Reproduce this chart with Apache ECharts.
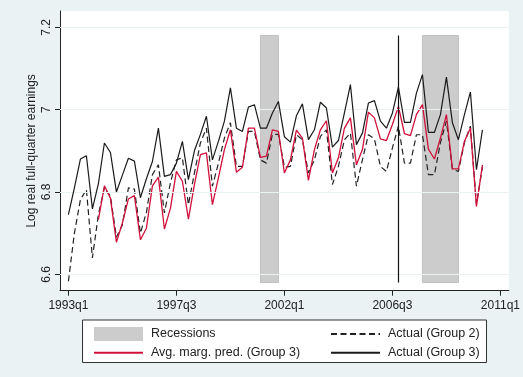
<!DOCTYPE html>
<html><head><meta charset="utf-8">
<script src="https://cdn.jsdelivr.net/npm/echarts@6/dist/echarts.min.js"></script>
<style>html,body{margin:0;padding:0;background:#eaf2f3}#c{width:523px;height:377px}</style>
</head><body><div id="c"></div>
<script>
// ---- data ----
const firstQuarter = '1993q1';
const xTickLabels = ['1993q1','1997q3','2002q1','2006q3','2011q1'];
const yTickValues = [6.6, 6.8, 7, 7.2];
const recessionStart = ['2001q1','2007q4'];
const recessionEnd = ['2001q4','2009q2'];
const recessionLow = 6.58, recessionHigh = 7.18;
const eventQuarter = '2006q4';
const actualGroup2 = [6.583,6.70,6.781,6.806,6.64,6.745,6.81,6.79,6.69,6.72,6.81,6.807,6.70,6.75,6.842,6.866,6.749,6.822,6.878,6.883,6.769,6.846,6.919,6.955,6.814,6.87,6.931,6.968,6.862,6.862,6.947,6.947,6.878,6.87,6.94,6.94,6.86,6.862,6.939,6.927,6.846,6.878,6.935,6.951,6.818,6.862,6.927,6.943,6.814,6.878,6.939,6.929,6.862,6.85,6.907,6.96,6.87,6.87,6.939,6.939,6.842,6.842,6.92,6.972,6.855,6.85,6.92,6.96,6.77,6.86];
const predGroup3 = [null,null,null,null,null,6.733,6.815,6.785,6.678,6.725,6.783,6.791,6.684,6.712,6.815,6.836,6.71,6.76,6.85,6.826,6.734,6.818,6.891,6.895,6.769,6.834,6.903,6.951,6.848,6.86,6.955,6.955,6.884,6.887,6.951,6.947,6.846,6.878,6.95,6.931,6.828,6.903,6.951,6.973,6.846,6.883,6.955,6.98,6.866,6.903,6.994,6.98,6.929,6.925,6.964,7.008,6.942,6.937,6.988,7.012,6.904,6.88,6.931,6.988,6.856,6.856,6.923,6.955,6.765,6.866];
const actualGroup3 = [6.745,6.81,6.88,6.888,6.759,6.82,6.919,6.896,6.80,6.841,6.882,6.875,6.786,6.832,6.874,6.955,6.838,6.842,6.87,6.923,6.83,6.90,6.94,6.984,6.878,6.923,6.972,7.053,6.955,6.947,7.006,7.012,6.955,6.955,6.992,7.02,6.934,6.921,6.985,7.014,6.927,6.951,7.018,7.004,6.909,6.925,6.992,7.061,6.915,6.943,7.016,7.022,6.972,6.955,6.992,7.055,6.969,6.969,7.04,7.085,6.945,6.945,6.988,7.079,6.968,6.927,6.988,7.043,6.854,6.951];

// ---- helpers ----
function qIndex(s){const y=+s.slice(0,4),q=+s.slice(5);const y0=+firstQuarter.slice(0,4),q0=+firstQuarter.slice(5);return (y-y0)*4+(q-q0);}
const xTickPos = xTickLabels.map(qIndex);
const toPairs = arr => arr.map((v,i)=>[i,v]);
const recData = recessionStart.map((s,k)=>[qIndex(s),qIndex(recessionEnd[k])]);
const ev = qIndex(eventQuarter);

const FONT = 'Liberation Sans, Arial, Helvetica, sans-serif';
const legendText = {fontSize:12.5,color:'#222',fontFamily:FONT,lineHeight:14,padding:[0,0,0,3]};
const chart = echarts.init(document.getElementById('c'));
chart.setOption({
  animation:false,
  backgroundColor:'#eaf2f3',
  textStyle:{fontFamily:FONT},
  grid:{left:60,right:14,top:11,bottom:86.3,show:true,backgroundColor:'#ffffff',borderWidth:0},
  xAxis:{type:'value',min:-1.4,max:73.4,
    axisLine:{show:true,onZero:false,lineStyle:{color:'#222',width:1}},
    axisTick:{show:true,length:5,customValues:xTickPos,lineStyle:{color:'#222'}},
    axisLabel:{show:true,customValues:xTickPos,margin:9,fontSize:12,color:'#222',fontFamily:FONT,
      formatter:v=>{const k=xTickPos.indexOf(Math.round(v));return k>=0?xTickLabels[k]:'';}},
    splitLine:{show:false}},
  yAxis:{type:'value',min:6.6-16.4/411.5,max:7.2+16.3/411.5,
    name:'Log real full-quarter earnings',nameLocation:'middle',nameGap:22,nameMoveOverlap:false,
    nameTextStyle:{fontSize:12,color:'#222',fontFamily:FONT},
    axisLine:{show:true,onZero:false,lineStyle:{color:'#222',width:1}},
    axisTick:{show:true,length:5,customValues:yTickValues,lineStyle:{color:'#222'}},
    axisLabel:{show:true,customValues:yTickValues,rotate:90,margin:7,fontSize:12,color:'#222',fontFamily:FONT,
      formatter:v=>String(Math.round(v*10)/10)},
    splitLine:{show:false}},
  legend:[
    {orient:'vertical',left:88,top:322,itemWidth:49,itemHeight:14,itemGap:4.7,textStyle:legendText,
     data:[{name:'Recessions',icon:'rect'},{name:'Avg. marg. pred. (Group 3)',itemStyle:{opacity:0}}],selectedMode:false},
    {orient:'vertical',left:325,top:322,itemWidth:49,itemHeight:14,itemGap:4.7,textStyle:legendText,
     data:[{name:'Actual (Group 2)',itemStyle:{opacity:0}},{name:'Actual (Group 3)',itemStyle:{opacity:0}}],selectedMode:false}
  ],
  graphic:[{type:'rect',z:-1,shape:{x:82.5,y:320,width:404,height:42.5},
    style:{fill:'#ffffff',stroke:'#333',lineWidth:1}}],
  series:[
    {type:'line',name:'grid',data:[],silent:true,z:1,
     markLine:{silent:true,symbol:'none',label:{show:false},
       lineStyle:{color:'#eaf2f3',width:1,type:'solid'},
       data:yTickValues.map(v=>({yAxis:v}))}},
    {type:'custom',name:'Recessions',z:2,silent:true,
     itemStyle:{color:'#cccccc'},
     data:recData,
     renderItem:(params,api)=>{
       const p0=api.coord([api.value(0),recessionHigh]);
       const p1=api.coord([api.value(1),recessionLow]);
       return {type:'rect',shape:{x:p0[0],y:p0[1],width:p1[0]-p0[0],height:p1[1]-p0[1]},
         style:{fill:'#cccccc',stroke:'#c0c0c0',lineWidth:1}};
     },
     encode:{x:[0,1]}},
    {type:'line',name:'Actual (Group 2)',data:toPairs(actualGroup2),showSymbol:false,symbol:'circle',z:3,
     lineStyle:{color:'#222',width:1.2,type:[6,3.5]},itemStyle:{color:'#222'}},
    {type:'line',name:'Avg. marg. pred. (Group 3)',data:toPairs(predGroup3),showSymbol:false,symbol:'circle',z:4,connectNulls:false,
     lineStyle:{color:'#d0103a',width:1.3},itemStyle:{color:'#d0103a'}},
    {type:'line',name:'Actual (Group 3)',data:toPairs(actualGroup3),showSymbol:false,symbol:'circle',z:5,
     lineStyle:{color:'#1a1a1a',width:1.2},itemStyle:{color:'#1a1a1a'},
     markLine:{silent:true,symbol:'none',label:{show:false},
       lineStyle:{color:'#111',width:1.2,type:'solid'},
       data:[[{coord:[ev,recessionLow]},{coord:[ev,recessionHigh]}]]}}
  ]
});
</script></body></html>
